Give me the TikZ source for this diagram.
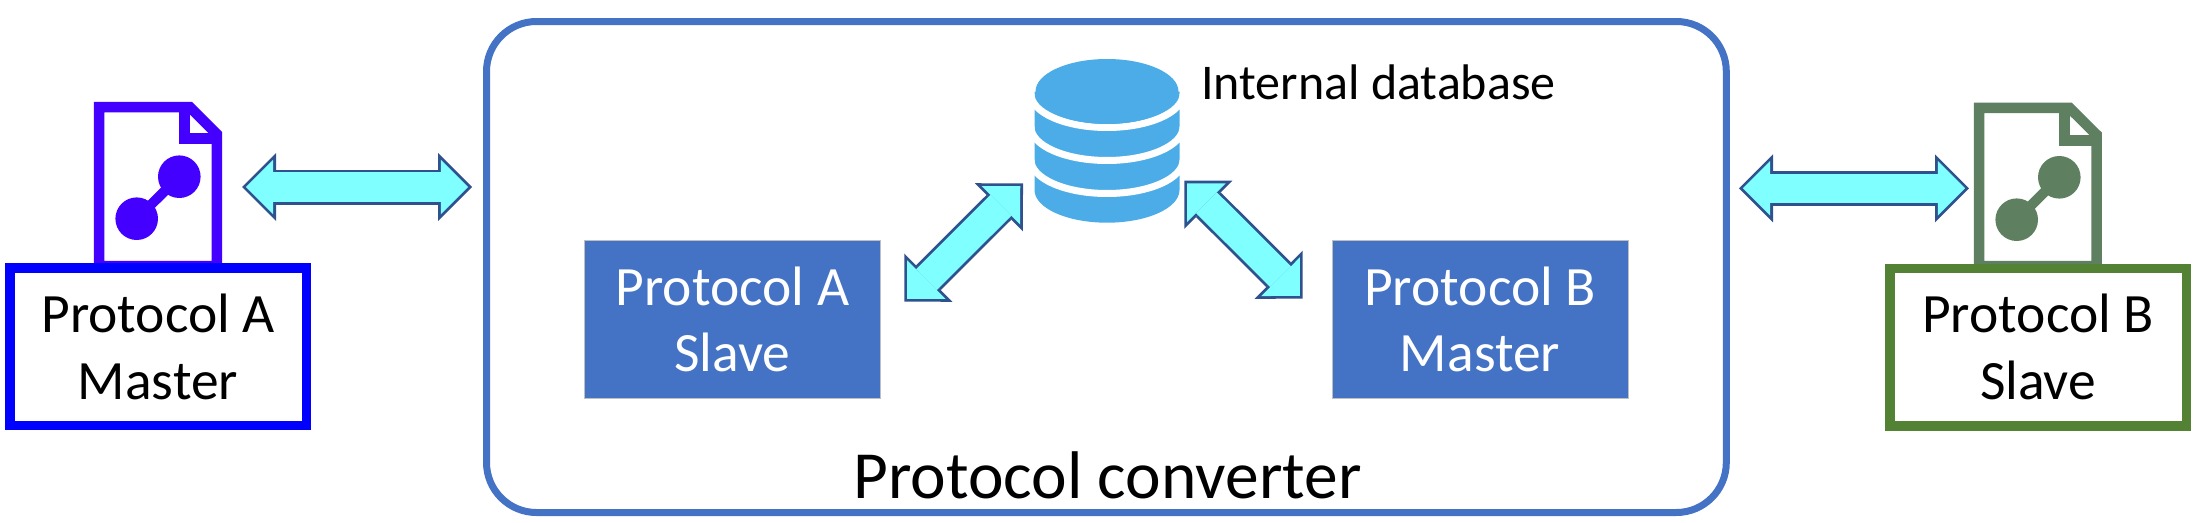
\documentclass[tikz,border=0pt]{standalone}
\usepackage{fontspec}
\setmainfont{Carlito}
\usetikzlibrary{arrows.meta}

\definecolor{frameblue}{HTML}{4472C4}
\definecolor{masterblue}{HTML}{0000FF}
\definecolor{docviolet}{HTML}{4400FF}
\definecolor{slavegreen}{HTML}{548235}
\definecolor{docgreen}{HTML}{5E8060}
\definecolor{dbblue}{HTML}{4BACE8}
\definecolor{arrowedge}{HTML}{2F528F}
\definecolor{arrowfill}{HTML}{7FFFFF}
\definecolor{protoedge}{HTML}{BFBFBF}

\tikzset{
    deviceBox/.style={draw, line width=9.5pt, fill=white, minimum width=296.5pt, minimum height=157.5pt, inner sep=0pt, align=center, font=\fontsize{55.5}{67}\selectfont},
    protoBox/.style={draw=protoedge, line width=1pt, fill=frameblue, text=white, minimum width=296pt, minimum height=158pt, inner sep=0pt, align=center, font=\fontsize{55.5}{66}\selectfont},
    docLine/.style={line width=10.5pt, miter limit=4},
    arrowOuter/.style={draw=arrowedge, line width=35pt, {Triangle[length=34pt,width=68pt,line width=0pt]}-{Triangle[length=34pt,width=68pt,line width=0pt]}},
    arrowInner/.style={draw=arrowfill, line width=29.4pt, shorten >=3.9pt, shorten <=3.9pt, {Triangle[length=27.3pt,width=54.6pt,line width=0pt]}-{Triangle[length=27.3pt,width=54.6pt,line width=0pt]}}
}

\begin{document}
\begin{tikzpicture}[x=1pt,y=-1pt]
    \useasboundingbox (0,0) rectangle (2197,522);

    % Arrow ends
    \coordinate (leftA) at (242,187);
    \coordinate (leftB) at (472,187);
    \coordinate (slaveEnd) at (904.3,301.7);
    \coordinate (dbEndL) at (1023,183.3);
    \coordinate (dbEndR) at (1184.3,180.7);
    \coordinate (masterEnd) at (1302.7,298.7);
    \coordinate (rightA) at (1739,188.3);
    \coordinate (rightB) at (1969,188.3);

    % Converter frame
    \draw[line width=7pt, frameblue, rounded corners=50pt] (486.5,21.5) rectangle (1726.3,512.5);
    \node[anchor=base, font=\fontsize{67.4}{70}\selectfont] (conv) at (1107.5,498.5) {Protocol converter};

    % Left device
    \draw[docLine, docviolet] (99.2,107.2) -- (190,107.2) -- (216.8,134) -- (216.8,266) -- (99.2,266) -- cycle;
    \draw[docLine, docviolet] (184.5,107) -- (184.5,138.5) -- (217,138.5);
    \fill[docviolet] (179.3,176.7) circle[radius=21.3];
    \fill[docviolet] (136.7,218.7) circle[radius=21.3];
    \draw[line width=10pt, docviolet] (179.3,176.7) -- (136.7,218.7);
    \node[deviceBox, draw=masterblue] (masterA) at (158,346.5) {Protocol A\\Master};

    % Right device
    \draw[docLine, docgreen] (1979.2,107.9) -- (2069.5,107.9) -- (2096.5,134.7) -- (2096.5,266) -- (1979.2,266) -- cycle;
    \draw[docLine, docgreen] (2064.5,108) -- (2064.5,140.3) -- (2097,140.3);
    \fill[docgreen] (2059.3,177.3) circle[radius=21.3];
    \fill[docgreen] (2016.7,219.7) circle[radius=21.3];
    \draw[line width=10pt, docgreen] (2059.3,177.3) -- (2016.7,219.7);
    \node[deviceBox, draw=slavegreen] (slaveB) at (2038,347.3) {Protocol B\\Slave};

    % Inner protocol blocks
    \node[protoBox] (slaveA) at (732.5,319.2) {Protocol A\\Slave};
    \node[protoBox] (masterB) at (1480,319.2) {Protocol B\\Master};

    % Database
    \fill[dbblue] (1034.5,91.5) -- (1034.5,190) arc[start angle=180, end angle=0, x radius=72.5, y radius=32.7] -- (1179.5,91.5) -- cycle;
    \foreach \dy in {0,33,66} {
        \draw[line width=7pt, white] (1031,94+\dy) arc[start angle=180, end angle=0, x radius=76, y radius=33.5];
    }
    \fill[dbblue] (1107,91.5) ellipse[x radius=71.5, y radius=32.5];
    \node[anchor=base west, inner sep=0pt, font=\fontsize{50}{55}\selectfont] (dbLabel) at (1201,99) {Internal database};

    % Block arrows
    \foreach \a/\b in {leftA/leftB, slaveEnd/dbEndL, dbEndR/masterEnd, rightA/rightB} {
        \draw[arrowOuter] (\a) -- (\b);
        \draw[arrowInner] (\a) -- (\b);
    }
\end{tikzpicture}
\end{document}
